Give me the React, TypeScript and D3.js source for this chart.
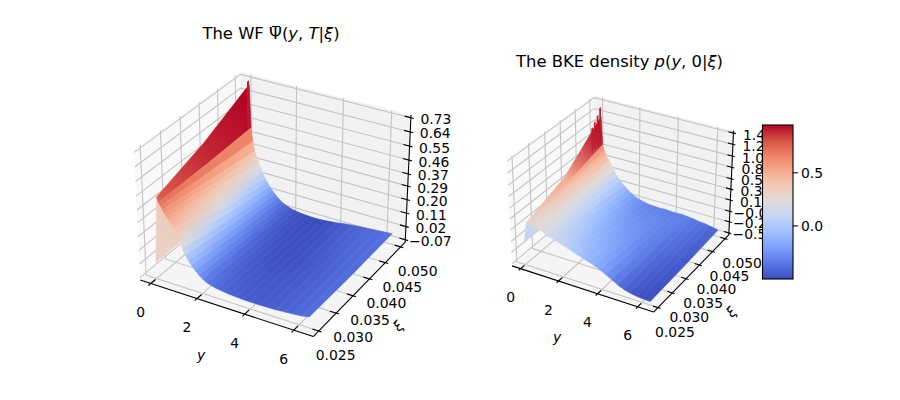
import * as d3 from "d3";

// matplotlib coolwarm
const coolwarmStops = ["#3b4cc0", "#5977e3", "#7b9ff9", "#9ebeff", "#c0d4f5", "#dddcdc", "#f2cbb7", "#f7ad90", "#ee8468", "#d65244", "#b40426"];

const yTicks = [0, 2, 4, 6];
const xiTicks = [0.025, 0.03, 0.035, 0.04, 0.045, 0.05];
const xiColumns = [0.025, 0.0375, 0.05];

// left surface
const wfY = [0, 0.15, 0.22, 0.3, 0.38, 0.46, 0.55, 0.64, 0.74, 0.84, 0.95, 1.06, 1.18, 1.3, 1.42, 1.55, 1.7, 1.85, 2.0, 2.2, 2.4, 2.6, 2.85, 3.1, 3.4, 3.7, 4.0, 4.35, 4.7, 5.05, 5.4, 5.75, 6.1, 6.4];
const wfLow = [0.02, 0.45, 0.42, 0.4, 0.38, 0.36, 0.34, 0.325, 0.31, 0.285, 0.25, 0.21, 0.165, 0.13, 0.1, 0.075, 0.05, 0.027, 0.01, -0.008, -0.017, -0.024, -0.03, -0.034, -0.038, -0.04, -0.041, -0.041, -0.04, -0.038, -0.034, -0.03, -0.024, -0.015];
const wfMid = [0.025, 0.56, 0.42, 0.37, 0.33, 0.3, 0.275, 0.25, 0.225, 0.19, 0.16, 0.125, 0.095, 0.07, 0.045, 0.025, 0.008, -0.007, -0.02, -0.032, -0.04, -0.045, -0.05, -0.053, -0.054, -0.054, -0.053, -0.05, -0.045, -0.04, -0.035, -0.03, -0.025, -0.02];
const wfHigh = [0.03, 0.71, 0.43, 0.34, 0.28, 0.245, 0.21, 0.18, 0.145, 0.112, 0.09, 0.065, 0.043, 0.022, 0.005, -0.012, -0.025, -0.035, -0.043, -0.05, -0.055, -0.058, -0.06, -0.061, -0.06, -0.055, -0.05, -0.042, -0.035, -0.03, -0.026, -0.022, -0.018, -0.015];
const wfZTicks = [-0.07, 0.02, 0.11, 0.2, 0.29, 0.37, 0.46, 0.55, 0.64, 0.73];
const wfSpikeXi = [0.0497];
const wfSpikeZ = [0.74];

// right surface
const bkeY = [0, 0.14, 0.22, 0.3, 0.4, 0.55, 0.7, 0.85, 1.0, 1.2, 1.4, 1.6, 1.8, 2.0, 2.25, 2.5, 2.75, 3.0, 3.3, 3.6, 3.9, 4.2, 4.5, 4.8, 5.1, 5.4, 5.7, 6.0, 6.4];
const bkeLow = [-0.1, 0.295, 0.285, 0.28, 0.27, 0.26, 0.25, 0.235, 0.215, 0.18, 0.157, 0.13, 0.104, 0.078, 0.046, 0.012, -0.022, -0.055, -0.09, -0.13, -0.18, -0.24, -0.305, -0.37, -0.42, -0.452, -0.473, -0.485, -0.49];
const bkeMid = [-0.1, 0.59, 0.453, 0.411, 0.379, 0.326, 0.268, 0.215, 0.157, 0.099, 0.046, -0.002, -0.039, -0.076, -0.113, -0.139, -0.171, -0.192, -0.218, -0.229, -0.261, -0.292, -0.314, -0.356, -0.382, -0.409, -0.425, -0.446, -0.467];
const bkeHigh = [-0.1, 1.225, 0.665, 0.559, 0.474, 0.379, 0.284, 0.189, 0.094, 0.009, -0.065, -0.128, -0.181, -0.229, -0.266, -0.287, -0.308, -0.314, -0.32, -0.312, -0.319, -0.325, -0.315, -0.329, -0.34, -0.361, -0.372, -0.393, -0.425];
const bkeZTicks = [-0.52, -0.29, -0.07, 0.16, 0.38, 0.59, 0.82, 1.04, 1.27, 1.49];
const bkeSpikeXi = [0.0497, 0.0488, 0.0478, 0.0469];
const bkeSpikeZ = [1.42, 1.3, 1.22, 1.14];

const colorbarTicks = [0, 0.5];
const colorbarRange = [-0.5, 0.95];
const wfColorAnchors = [-0.06, 0.19, 0.52];
const bkeColorAnchors = [-0.5, 0.225, 0.95];

const FONT = "'DejaVu Sans', sans-serif";
const coolwarm = d3
  .scaleLinear<string>()
  .domain(coolwarmStops.map((_, i) => i / 10))
  .range(coolwarmStops)
  .interpolate(d3.interpolateRgb)
  .clamp(true);

const deg = Math.PI / 180;
const elev = 30 * deg;
const azim = -60 * deg;
const dist = 10;
// same box as mplot3d: aspect 4:4:3
const boxScale = (1.8294640721620434 * 25) / 24 / Math.sqrt(41);
const box = [4 * boxScale, 4 * boxScale, 3 * boxScale];
const w = [Math.cos(elev) * Math.cos(azim), Math.cos(elev) * Math.sin(azim), Math.sin(elev)];
const u = [-Math.sin(azim), Math.cos(azim), 0];
const v = [w[1] * u[2] - w[2] * u[1], w[2] * u[0] - w[0] * u[2], w[0] * u[1] - w[1] * u[0]];
const dot = (a: number[], b: number[]) => a[0] * b[0] + a[1] * b[1] + a[2] * b[2];

const yLim = [-0.46, 6.78];
const xiLim = [0.0235, 0.0515];

function makeProjection(left: number, top: number, size: number, zLim: number[]) {
  const sx = d3.scaleLinear().domain([-0.095, 0.09]).range([left, left + size]);
  const sy = d3.scaleLinear().domain([-0.095, 0.09]).range([top + size, top]);
  const bx = d3.scaleLinear().domain(yLim).range([0, box[0]]);
  const by = d3.scaleLinear().domain(xiLim).range([0, box[1]]);
  const bz = d3.scaleLinear().domain(zLim).range([0, box[2]]);
  return (y: number, xi: number, z: number): [number, number] => {
    const d = [bx(y) - box[0] / 2, by(xi) - box[1] / 2, bz(z) - box[2] / 2];
    const depth = dist - dot(w, d);
    return [sx(dot(u, d) / depth), sy(dot(v, d) / depth)];
  };
}

const pts = (list: [number, number][]) => list.map((p) => p.join(",")).join(" ");

interface PanelProps {
  id: string;
  left: number;
  top: number;
  size: number;
  zTicks: number[];
  rows: number[];
  columns: number[][];
  colorAnchors: number[];
  spikeXi: number[];
  spikeZ: number[];
  yLabelAt: [number, number];
  xiLabelAt: [number, number];
}

function Panel({ id, left, top, size, zTicks, rows, columns, colorAnchors, spikeXi, spikeZ, yLabelAt, xiLabelAt }: PanelProps) {
  const pad = (zTicks[zTicks.length - 1] - zTicks[0]) / 48;
  const zLim = [zTicks[0] - pad, zTicks[zTicks.length - 1] + pad];
  const P = makeProjection(left, top, size, zLim);
  const [y0, y1] = yLim;
  const [k0, k1] = xiLim;
  const [z0, z1] = zLim;
  const color = d3.scaleLinear().domain(colorAnchors).range([0, 0.5, 1]);
  const gridColor = "#c4c4c4";

  const strips = rows.slice(1).map((y, i) => {
    const prev = rows[i];
    const a = xiColumns.map((xi, c) => P(prev, xi, columns[c][i]));
    const b = xiColumns.map((xi, c) => P(y, xi, columns[c][i + 1]));
    const fills = xiColumns.map((_, c) => coolwarm(color((columns[c][i] + columns[c][i + 1]) / 2)));
    const start = [(a[0][0] + b[0][0]) / 2, (a[0][1] + b[0][1]) / 2];
    const end = [(a[2][0] + b[2][0]) / 2, (a[2][1] + b[2][1]) / 2];
    return { a, b, fills, start, end, gid: `${id}-s${i}` };
  });

  return (
    <g>
      <polygon points={pts([P(y0, k0, z0), P(y0, k1, z0), P(y0, k1, z1), P(y0, k0, z1)])} fill="#f9f9f9" />
      <polygon points={pts([P(y0, k1, z0), P(y1, k1, z0), P(y1, k1, z1), P(y0, k1, z1)])} fill="#f2f2f2" />
      <polygon points={pts([P(y0, k0, z0), P(y1, k0, z0), P(y1, k1, z0), P(y0, k1, z0)])} fill="#f5f5f5" />

      <g fill="none" stroke={gridColor} strokeWidth={1.1}>
        {yTicks.map((t) => (
          <polyline key={t} points={pts([P(t, k0, z0), P(t, k1, z0), P(t, k1, z1)])} />
        ))}
        {xiTicks.map((t) => (
          <polyline key={t} points={pts([P(y1, t, z0), P(y0, t, z0), P(y0, t, z1)])} />
        ))}
        {zTicks.map((t) => (
          <polyline key={t} points={pts([P(y0, k0, t), P(y0, k1, t), P(y1, k1, t)])} />
        ))}
      </g>

      <g stroke="#000" strokeWidth={1.1} fill="none">
        <line x1={P(y0, k0, z0)[0]} y1={P(y0, k0, z0)[1]} x2={P(y1, k0, z0)[0]} y2={P(y1, k0, z0)[1]} />
        <line x1={P(y1, k0, z0)[0]} y1={P(y1, k0, z0)[1]} x2={P(y1, k1, z0)[0]} y2={P(y1, k1, z0)[1]} />
        <line x1={P(y1, k1, z0)[0]} y1={P(y1, k1, z0)[1]} x2={P(y1, k1, z1)[0]} y2={P(y1, k1, z1)[1]} />
        {yTicks.map((t) => (
          <polyline key={t} points={pts([P(t, k0 - 0.0006, z0), P(t, k0 + 0.0012, z0)])} />
        ))}
        {xiTicks.map((t) => (
          <polyline key={t} points={pts([P(y1 - 0.25, t, z0), P(y1 + 0.12, t, z0)])} />
        ))}
        {zTicks.map((t) => (
          <polyline key={t} points={pts([P(y1 - 0.25, k1, t), P(y1 + 0.12, k1, t)])} />
        ))}
      </g>

      <g fontFamily={FONT} fontSize={13.9} fill="#000" textAnchor="middle" dominantBaseline="central">
        {yTicks.map((t) => {
          const [x, y] = P(t, k0, z0);
          return <text key={t} x={x - 10} y={y + 28.5}>{t}</text>;
        })}
        {xiTicks.map((t) => {
          const [x, y] = P(y1, t, z0);
          return <text key={t} x={x + 17} y={y + 24}>{d3.format(".3f")(t)}</text>;
        })}
        {zTicks.map((t) => {
          const [x, y] = P(y1, k1, t);
          return <text key={t} x={x + 25} y={y + 1.5}>{d3.format(".2f")(t)}</text>;
        })}
        <text x={yLabelAt[0]} y={yLabelAt[1]} fontStyle="italic">y</text>
        <text x={xiLabelAt[0]} y={xiLabelAt[1]} fontStyle="italic" transform={`rotate(-46 ${xiLabelAt[0]} ${xiLabelAt[1]})`}>ξ</text>
      </g>

      <defs>
        {strips.map((s) => (
          <linearGradient key={s.gid} id={s.gid} gradientUnits="userSpaceOnUse" x1={s.start[0]} y1={s.start[1]} x2={s.end[0]} y2={s.end[1]}>
            {s.fills.map((f, c) => (
              <stop key={c} offset={c / (s.fills.length - 1)} stopColor={f} />
            ))}
          </linearGradient>
        ))}
      </defs>
      {strips.map((s) => (
        <polygon
          key={s.gid}
          points={pts([...s.a, ...[...s.b].reverse()])}
          fill={`url(#${s.gid})`}
          stroke={`url(#${s.gid})`}
          strokeWidth={0.6}
        />
      ))}
      {spikeXi.map((xi, i) => (
        <polygon
          key={xi}
          points={pts([P(rows[1], xi - 0.0003, columns[2][2]), P(rows[1], xi + 0.0003, columns[2][2]), P(rows[1], xi + 0.0003, spikeZ[i]), P(rows[1], xi - 0.0003, spikeZ[i])])}
          fill={coolwarm(0.97)}
        />
      ))}
    </g>
  );
}

function Colorbar() {
  const left = 762.5;
  const width = 30.5;
  const top = 125;
  const height = 154;
  const y = d3.scaleLinear().domain(colorbarRange).range([top + height, top]);
  return (
    <g>
      <defs>
        <linearGradient id="cbar" x1="0" y1="1" x2="0" y2="0">
          {coolwarmStops.map((c, i) => (
            <stop key={c} offset={i / 10} stopColor={c} />
          ))}
        </linearGradient>
      </defs>
      <rect x={left} y={top} width={width} height={height} fill="url(#cbar)" stroke="#000" strokeWidth={1.1} />
      {colorbarTicks.map((t) => (
        <g key={t}>
          <line x1={left + width} x2={left + width + 4.9} y1={y(t)} y2={y(t)} stroke="#000" strokeWidth={1.1} />
          <text x={left + width + 8} y={y(t)} fontFamily={FONT} fontSize={13.9} dominantBaseline="central">
            {t.toFixed(1)}
          </text>
        </g>
      ))}
    </g>
  );
}

export default function App() {
  return (
    <svg width={900} height={400} style={{ position: "absolute", left: 0, top: 0, background: "#fff" }}>
      <Panel
        id="wf"
        left={117}
        top={48}
        size={308}
        zTicks={wfZTicks}
        rows={wfY}
        columns={[wfLow, wfMid, wfHigh]}
        colorAnchors={wfColorAnchors}
        spikeXi={wfSpikeXi}
        spikeZ={wfSpikeZ}
        yLabelAt={[201, 355]}
        xiLabelAt={[398, 326]}
      />
      <Panel
        id="bke"
        left={493}
        top={76}
        size={252}
        zTicks={bkeZTicks}
        rows={bkeY}
        columns={[bkeLow, bkeMid, bkeHigh]}
        colorAnchors={bkeColorAnchors}
        spikeXi={bkeSpikeXi}
        spikeZ={bkeSpikeZ}
        yLabelAt={[557, 337]}
        xiLabelAt={[731, 312]}
      />
      <Colorbar />
      <g fontFamily={FONT} fontSize={16.4} fill="#000" textAnchor="middle">
        <text x={271} y={39}>
          The WF Ψ(<tspan fontStyle="italic">y</tspan>, <tspan fontStyle="italic">T</tspan>|<tspan fontStyle="italic">ξ</tspan>)
        </text>
        <text x={619.5} y={67}>
          The BKE density <tspan fontStyle="italic">p</tspan>(<tspan fontStyle="italic">y</tspan>, 0|<tspan fontStyle="italic">ξ</tspan>)
        </text>
      </g>
      {/* bar over the Psi */}
      <line x1={272} x2={280} y1={26.5} y2={26.5} stroke="#000" strokeWidth={1.1} />
    </svg>
  );
}
